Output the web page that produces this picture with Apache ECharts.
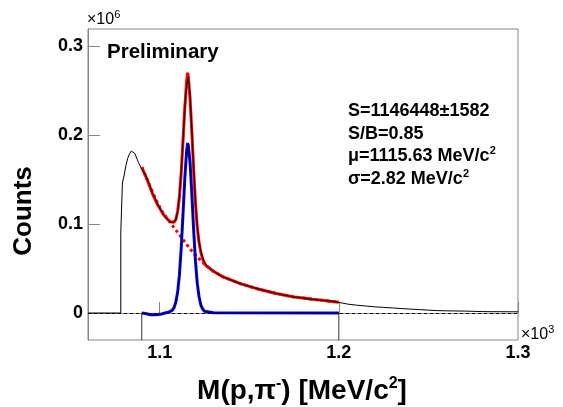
<!DOCTYPE html>
<html>
<head>
<meta charset="utf-8">
<script src="https://cdn.jsdelivr.net/npm/echarts@6/dist/echarts.min.js"></script>
<style>html,body{margin:0;padding:0;background:#fff}#c{width:563px;height:407px}</style>
</head>
<body>
<div id="c"></div>
<script>
// Mass in MeV/c^2, counts in units of 10^6
const dataHist = [[1060,0],[1078.3,0],[1078.3,0.090],[1079.2,0.090],[1079.2,0.146],[1080.2,0.155],[1081.2,0.166],[1082.2,0.174],[1083.2,0.179],[1084.2,0.182],[1085.2,0.182],[1086.2,0.179],[1087.2,0.174],[1088.2,0.169],[1089.2,0.165],[1090,0.164],[1092,0.155],[1094,0.146],[1096,0.135],[1098,0.126],[1100,0.118],[1102,0.111],[1104,0.106],[1106,0.102],[1107,0.101],[1108,0.102],[1109,0.105],[1110,0.114],[1111,0.131],[1112,0.158],[1113,0.193],[1114,0.229],[1115,0.256],[1116,0.2655],[1117,0.243],[1118,0.203],[1119,0.161],[1120,0.124],[1121,0.097],[1122,0.080],[1123,0.069],[1124,0.062],[1125,0.057],[1126,0.054],[1128,0.050],[1130,0.047],[1135,0.041],[1140,0.037],[1145,0.033],[1150,0.030],[1155,0.027],[1160,0.0245],[1165,0.022],[1170,0.020],[1175,0.018],[1180,0.0168],[1185,0.0155],[1190,0.0145],[1195,0.0135],[1200,0.0120],[1205,0.0100],[1210,0.0088],[1215,0.0079],[1220,0.0070],[1225,0.0063],[1230,0.0057],[1235,0.0050],[1240,0.0044],[1245,0.0039],[1250,0.0032],[1255,0.0027],[1260,0.0025],[1265,0.0023],[1270,0.0022],[1275,0.0019],[1280,0.0016],[1285,0.0015],[1290,0.0015],[1295,0.0014],[1300,0.0014]];

const fitTotal = [[1090,0.164],[1093,0.150],[1096,0.134],[1099,0.121],[1102,0.111],[1104,0.106],[1105,0.104],[1106,0.1025],[1107,0.1015],[1108,0.102],[1109,0.105],[1110,0.1135],[1111,0.130],[1112,0.157],[1113,0.192],[1114,0.230],[1115,0.259],[1115.6,0.270],[1116,0.266],[1117,0.240],[1118,0.202],[1119,0.160],[1120,0.123],[1121,0.096],[1122,0.079],[1123,0.068],[1124,0.061],[1125,0.056],[1126,0.053],[1128,0.050],[1130,0.047],[1135,0.041],[1140,0.037],[1145,0.033],[1150,0.030],[1155,0.027],[1160,0.0245],[1165,0.022],[1170,0.020],[1175,0.018],[1180,0.0168],[1185,0.0155],[1190,0.0145],[1195,0.0133],[1200,0.0122]];

const fitBkg = [[1090,0.164],[1093,0.150],[1096,0.136],[1099,0.123],[1102,0.112],[1105,0.104],[1108,0.096],[1111,0.088],[1114,0.080],[1117,0.072],[1120,0.065],[1123,0.059],[1126,0.053],[1130,0.047],[1135,0.041],[1140,0.037],[1145,0.033],[1150,0.030],[1155,0.027],[1160,0.0245],[1165,0.022],[1170,0.020],[1175,0.018],[1180,0.0168],[1185,0.0155],[1190,0.0145],[1195,0.0133],[1200,0.0122]];

const fitSignal = [[1090,0],[1092,-0.0005],[1095,-0.002],[1098,-0.002],[1101,-0.001],[1103,0],[1105,0.001],[1106,0.0015],[1107,0.003],[1108,0.006],[1109,0.012],[1110,0.023],[1111,0.042],[1112,0.072],[1113,0.110],[1114,0.150],[1115,0.181],[1115.6,0.191],[1116,0.188],[1117,0.168],[1118,0.132],[1119,0.092],[1120,0.058],[1121,0.033],[1122,0.018],[1123,0.009],[1124,0.0045],[1125,0.002],[1126,0.001],[1130,0.0003],[1200,0]];

const subHist = [[1090,-0.0303],[1090,0],[1093,-0.001],[1096,-0.002],[1099,-0.002],[1102,-0.001],[1104,0],[1106,0.001],[1107,0.003],[1108,0.006],[1109,0.012],[1110,0.023],[1111,0.042],[1112,0.071],[1113,0.109],[1114,0.149],[1115,0.180],[1116,0.190],[1117,0.170],[1118,0.133],[1119,0.093],[1120,0.059],[1121,0.034],[1122,0.019],[1123,0.010],[1124,0.005],[1125,0.002],[1127,0.001],[1130,0],[1200,0],[1200,-0.0303]];

const xTicks = [1.1, 1.2, 1.3];
const yTicks = [0, 0.1, 0.2, 0.3];
const statsLines = ['S=1146448\u00b11582', 'S/B=0.85', '\u03bc=1115.63 MeV/c', '\u03c3=2.82 MeV/c'];

const toGeV = arr => arr.map(p => [p[0] / 1000, p[1]]);
const FONT = '"Liberation Sans", Arial, Helvetica, sans-serif';
const FRAME = '#858585';

const chart = echarts.init(document.getElementById('c'));
const lineBase = { type: 'line', symbol: 'none', silent: true, animation: false };

chart.setOption({
  animation: false,
  backgroundColor: '#fff',
  grid: { left: 88, top: 29, width: 430, height: 311, show: true, borderColor: FRAME, borderWidth: 1, containLabel: false, outerBoundsMode: 'none' },
  xAxis: {
    type: 'value', min: 1.06, max: 1.3,
    axisLine: { show: true, lineStyle: { color: FRAME, width: 1 } },
    axisTick: { show: true, inside: true, length: 11, customValues: xTicks, lineStyle: { color: FRAME } },
    axisLabel: { customValues: xTicks, color: '#000', fontFamily: FONT, fontWeight: 'bold', fontSize: 18, margin: 4, formatter: v => v.toFixed(1) },
    splitLine: { show: false }
  },
  yAxis: {
    type: 'value', min: -0.0303, max: 0.3191,
    axisLine: { show: true, lineStyle: { color: FRAME, width: 1 } },
    axisTick: { show: true, inside: true, length: 12, customValues: yTicks, lineStyle: { color: FRAME } },
    axisLabel: { customValues: yTicks, color: '#000', fontFamily: FONT, fontWeight: 'bold', fontSize: 18, margin: 5, formatter: v => (v === 0 ? '0' : v.toFixed(1)) },
    splitLine: { show: false }
  },
  series: [
    Object.assign({}, lineBase, {
      name: 'bkg', data: toGeV(fitBkg), z: 2,
      lineStyle: { color: '#ff0000', width: 3, type: [3, 3] },
      markLine: { silent: true, symbol: 'none', label: { show: false }, animation: false,
        lineStyle: { color: '#000', width: 1, type: [3, 3] }, data: [{ yAxis: 0 }] }
    }),
    Object.assign({}, lineBase, { name: 'total', data: toGeV(fitTotal), z: 3, lineStyle: { color: '#ff0000', width: 3 } }),
    Object.assign({}, lineBase, { name: 'data', data: toGeV(dataHist), z: 4, lineStyle: { color: '#000', width: 1 } }),
    Object.assign({}, lineBase, { name: 'signal', data: toGeV(fitSignal), z: 5, lineStyle: { color: '#0000ff', width: 3 } }),
    Object.assign({}, lineBase, { name: 'sub', data: toGeV(subHist), z: 6, lineStyle: { color: '#000', width: 0.8 } })
  ],
  graphic: [
    { type: 'text', x: 87, y: 9, style: { text: '{a|\u00d710}{s|6}', rich: {
      a: { fontFamily: FONT, fontSize: 16, fill: '#000' },
      s: { fontFamily: FONT, fontSize: 11, fill: '#000', padding: [0, 0, 10, 0] } } } },
    { type: 'text', x: 521, y: 324, style: { text: '{a|\u00d710}{s|3}', rich: {
      a: { fontFamily: FONT, fontSize: 16, fill: '#000' },
      s: { fontFamily: FONT, fontSize: 11, fill: '#000', padding: [0, 0, 10, 0] } } } },
    { type: 'text', x: 107, y: 42, style: { text: 'Preliminary', fontFamily: FONT, fontWeight: 'bold', fontSize: 20.5, fill: '#000' } },
    { type: 'text', x: 348, y: 100, style: {
      text: '{b|' + statsLines[0] + '}\n{b|' + statsLines[1] + '}\n{b|' + statsLines[2] + '}{s|2}\n{b|' + statsLines[3] + '}{s|2}',
      rich: {
        b: { fontFamily: FONT, fontWeight: 'bold', fontSize: 18, fill: '#000', lineHeight: 22.5 },
        s: { fontFamily: FONT, fontWeight: 'bold', fontSize: 11, fill: '#000', padding: [0, 0, 10, 0], lineHeight: 22.5 }
      } } },
    { type: 'text', x: 24, y: 211, rotation: Math.PI / 2, style: { text: 'Counts', fontFamily: FONT, fontWeight: 'bold', fontSize: 26, fill: '#000', align: 'center', verticalAlign: 'middle' } },
    { type: 'text', x: 302, y: 391, style: {
      text: '{t|M(p,\u03c0}{s|-}{t|) [MeV/c}{s|2}{t|]}', align: 'center', verticalAlign: 'middle',
      rich: {
        t: { fontFamily: FONT, fontWeight: 'bold', fontSize: 28, fill: '#000' },
        s: { fontFamily: FONT, fontWeight: 'bold', fontSize: 16, fill: '#000', padding: [0, 0, 15, 0] }
      } } }
  ]
});
</script>
</body>
</html>
